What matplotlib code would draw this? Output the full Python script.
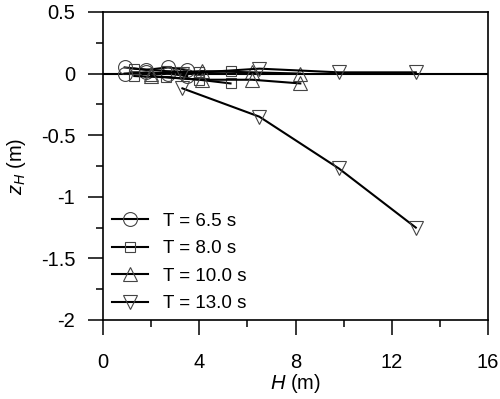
import matplotlib
matplotlib.use("Agg")
import matplotlib.pyplot as plt
from matplotlib.ticker import MultipleLocator

plt.rcParams['font.family'] = ['Liberation Sans', 'DejaVu Sans']
plt.rcParams['mathtext.fontset'] = 'custom'
plt.rcParams['mathtext.rm'] = 'Liberation Sans'
plt.rcParams['mathtext.it'] = 'Liberation Sans:italic'

# wave height H (m) and vertical offset z_H (m), two runs per period
H_65 = [0.9, 1.8, 2.7, 3.5]
z_65_a = [0.05, 0.03, 0.05, 0.03]
z_65_b = [0.0, 0.01, 0.0, -0.02]

H_80 = [1.3, 2.6, 4.0, 5.3]
z_80_a = [0.04, 0.02, 0.01, 0.02]
z_80_b = [-0.02, -0.03, -0.05, -0.08]

H_100 = [2.0, 4.1, 6.2, 8.2]
z_100_a = [0.0, 0.02, 0.01, 0.0]
z_100_b = [-0.02, -0.05, -0.05, -0.08]

H_130 = [3.3, 6.5, 9.8, 13.0]
z_130_a = [0.0, 0.04, 0.01, 0.01]
z_130_b = [-0.12, -0.35, -0.77, -1.25]

labels = ['T = 6.5 s', 'T = 8.0 s', 'T = 10.0 s', 'T = 13.0 s']

fig = plt.figure(figsize=(5, 3.99), dpi=100)
ax = fig.add_axes([0.206, 0.198, 0.770, 0.772])

ax.axhline(0, color='black', lw=1.5, zorder=1)

series = [
    (H_65, [z_65_a, z_65_b], 'o', 10),
    (H_80, [z_80_a, z_80_b], 's', 6.5),
    (H_100, [z_100_a, z_100_b], '^', 9.5),
    (H_130, [z_130_a, z_130_b], 'v', 9.5),
]
for (H, zs, mk, ms), lab in zip(series, labels):
    for j, z in enumerate(zs):
        ax.plot(H, z, color='black', lw=1.5, marker=mk, ms=ms,
                mfc='none', mec='#444444', mew=0.8,
                label=lab if j == 0 else None, zorder=2)

ax.set_xlim(0, 16)
ax.set_ylim(-2, 0.5)
ax.xaxis.set_major_locator(MultipleLocator(4))
ax.xaxis.set_minor_locator(MultipleLocator(2))
ax.yaxis.set_minor_locator(MultipleLocator(0.25))
ax.set_yticks([0.5, 0, -0.5, -1, -1.5, -2])
ax.set_yticklabels(['0.5', '0', '-0.5', '-1', '-1.5', '-2'])

ax.tick_params(which='major', direction='out', length=11, width=1.1,
               labelsize=14.5)
ax.tick_params(axis='x', which='major', pad=13)
ax.tick_params(axis='y', which='major', pad=9)
ax.tick_params(which='minor', direction='out', length=5, width=1.1)
for sp in ax.spines.values():
    sp.set_linewidth(1.2)

ax.set_xlabel('$H$ (m)', fontsize=14.5, labelpad=0)
ax.set_ylabel('$z_H$ (m)', fontsize=14.5, labelpad=9)

ax.legend(loc='lower left', bbox_to_anchor=(0.0, -0.005), frameon=False,
          fontsize=13.5, handlelength=1.9, labelspacing=0.55,
          handletextpad=0.8, borderaxespad=0.1)

fig.savefig('out.png', dpi=100)
